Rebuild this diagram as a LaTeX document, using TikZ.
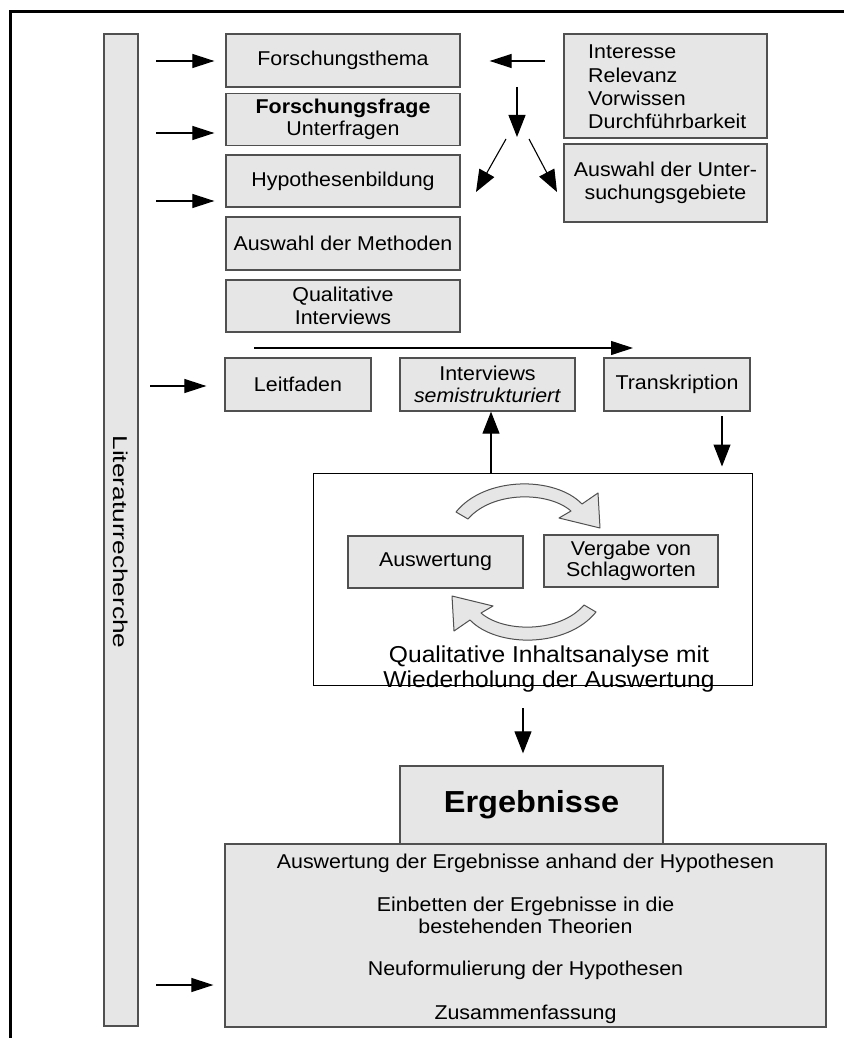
\documentclass[tikz,border=0pt]{standalone}
\usepackage{fontspec}
\setmainfont[FakeStretch=1.07]{Liberation Sans}
\usetikzlibrary{arrows.meta}
\definecolor{boxfill}{HTML}{E6E6E6}
\definecolor{boxline}{HTML}{505050}
\begin{document}
\begin{tikzpicture}[x=1pt,y=-1pt,
  box/.style={draw=boxline, fill=boxfill, line width=1.3pt, inner sep=0pt,
    font=\fontsize{20}{22.5}\selectfont, align=center},
  plain/.style={inner sep=0pt, align=center, font=\fontsize{20}{22.5}\selectfont},
  big/.style={inner sep=0pt, align=center, font=\fontsize{23}{25.5}\selectfont},
  arr/.style={-{Triangle[length=22pt,width=14pt]}, line width=1.1pt},
  varr/.style={-{Triangle[length=22pt,width=17pt]}, line width=1.1pt},
  cyclearrow/.style={draw=boxline, fill=boxfill, line width=1pt, line join=round}
]
\useasboundingbox (0,0) rectangle (844,1038);

% outer frame (top and left only)
\draw[line width=3pt] (10,1038) -- (10,12) -- (844,12);

% literature bar
\node[box, minimum width=34pt, minimum height=992pt] (lit) at (121,530) {};
\node[plain, rotate=-90] (littext) at (121,542) {\scalebox{1.227}[1]{Literaturrecherche}};

% left column
\node[box, minimum width=234pt, minimum height=53pt] (thema) at (343,60.5) {Forschungsthema};
\node[box, minimum width=234pt, minimum height=52pt, font=\fontsize{20}{21.5}\selectfont] (frage) at (343,119.5) {\textbf{Forschungsfrage}\\Unterfragen};
\node[box, minimum width=234pt, minimum height=52pt] (hypo) at (343,181) {Hypothesenbildung};
\node[box, minimum width=234pt, minimum height=53pt] (methoden) at (343,243.5) {Auswahl der Methoden};
\node[box, minimum width=234pt, minimum height=52pt] (qualint) at (343,306) {Qualitative\\Interviews};

% right column
\node[box, minimum width=203pt, minimum height=104pt] (interesse) at (665.5,86) {};
\node[plain, align=left, anchor=west, font=\fontsize{20}{23.3}\selectfont] (kriterien) at (588,87) {Interesse\\Relevanz\\Vorwissen\\Durchführbarkeit};
\node[box, minimum width=203pt, minimum height=78pt] (gebiete) at (665.5,183) {Auswahl der Unter-\\suchungsgebiete};

% interview row
\node[box, minimum width=146pt, minimum height=53pt] (leitfaden) at (298,384.5) {Leitfaden};
\node[box, minimum width=175pt, minimum height=53pt, font=\fontsize{20}{21.5}\selectfont] (interviews) at (487.5,384.5) {Interviews\\\textit{semistrukturiert}};
\node[box, minimum width=146pt, minimum height=53pt] (transkription) at (677,384.5) {Transkription};

% content analysis
\node[draw=black, fill=white, line width=1pt, minimum width=439pt, minimum height=212pt, inner sep=0pt] (analyse) at (532.5,579) {};
\node[box, minimum width=175pt, minimum height=52pt] (auswertung) at (435.5,562) {Auswertung};
\node[box, minimum width=174pt, minimum height=52pt, font=\fontsize{20}{21}\selectfont] (vergabe) at (631,561) {Vergabe von\\Schlagworten};
\node[big] (analysetext) at (549,669) {Qualitative Inhaltsanalyse mit\\Wiederholung der Auswertung};

% cycle arrows
\path[cyclearrow] (456,512) .. controls (485,476) and (555,476) .. (582,504)
  -- (598,493) -- (600,528) -- (559,518) -- (571,511)
  .. controls (548,491) and (492,491) .. (468,519) -- cycle;
\begin{scope}[rotate around={180:(526,562)}]
\path[cyclearrow] (456,512) .. controls (485,476) and (555,476) .. (582,504)
  -- (598,493) -- (600,528) -- (559,518) -- (571,511)
  .. controls (548,491) and (492,491) .. (468,519) -- cycle;
\end{scope}

% results
\node[box, minimum width=263pt, minimum height=78pt, font=\fontsize{30.4}{32}\selectfont\bfseries] (ergebnisse) at (531.5,805) {Ergebnisse};
\node[box, minimum width=601pt, minimum height=183pt] (schluss) at (525.5,935.5) {};
\node[plain, font=\fontsize{20}{22}\selectfont] (schlusstext) at (525.5,939) {Auswertung der Ergebnisse anhand der Hypothesen\\[21pt]
  Einbetten der Ergebnisse in die\\bestehenden Theorien\\[20pt]
  Neuformulierung der Hypothesen\\[22pt]
  Zusammenfassung};

% connectors
\coordinate (a1) at (156,61);
\coordinate (a2) at (156,133);
\coordinate (a3) at (156,201);
\coordinate (a4) at (150,386);
\coordinate (a5) at (156,985);
\draw[arr, shorten >=11pt] (a1) -- (a1 -| thema.west);
\draw[arr, shorten >=11pt] (a2) -- (a2 -| frage.west);
\draw[arr, shorten >=11pt] (a3) -- (a3 -| hypo.west);
\draw[arr, shorten >=18pt] (a4) -- (a4 -| leitfaden.west);
\draw[arr, shorten >=11pt] (a5) -- (a5 -| schluss.west);

\coordinate (k1) at (545,61);
\draw[arr, shorten >=29pt] (k1) -- (k1 -| thema.east);

\coordinate (s0) at (517,87);
\coordinate (s1) at (517,137);
\draw[varr] (s0) -- (s1);
\coordinate (d1) at (506,139);
\coordinate (d1e) at (476,192);
\coordinate (d2) at (529,139);
\coordinate (d2e) at (557,192);
\draw[varr] (d1) -- (d1e);
\draw[varr] (d2) -- (d2e);

\coordinate (h0) at (254,348);
\coordinate (h1) at (633,348);
\draw[arr] (h0) -- (h1);

\coordinate (up) at (491,473);
\draw[varr] (up) -- (up |- interviews.south);
\coordinate (tk) at (722,416);
\draw[varr, shorten >=6pt] (tk) -- (tk |- analyse.north);
\coordinate (er) at (523,708);
\draw[varr, shorten >=12pt] (er) -- (er |- ergebnisse.north);
\end{tikzpicture}
\end{document}
